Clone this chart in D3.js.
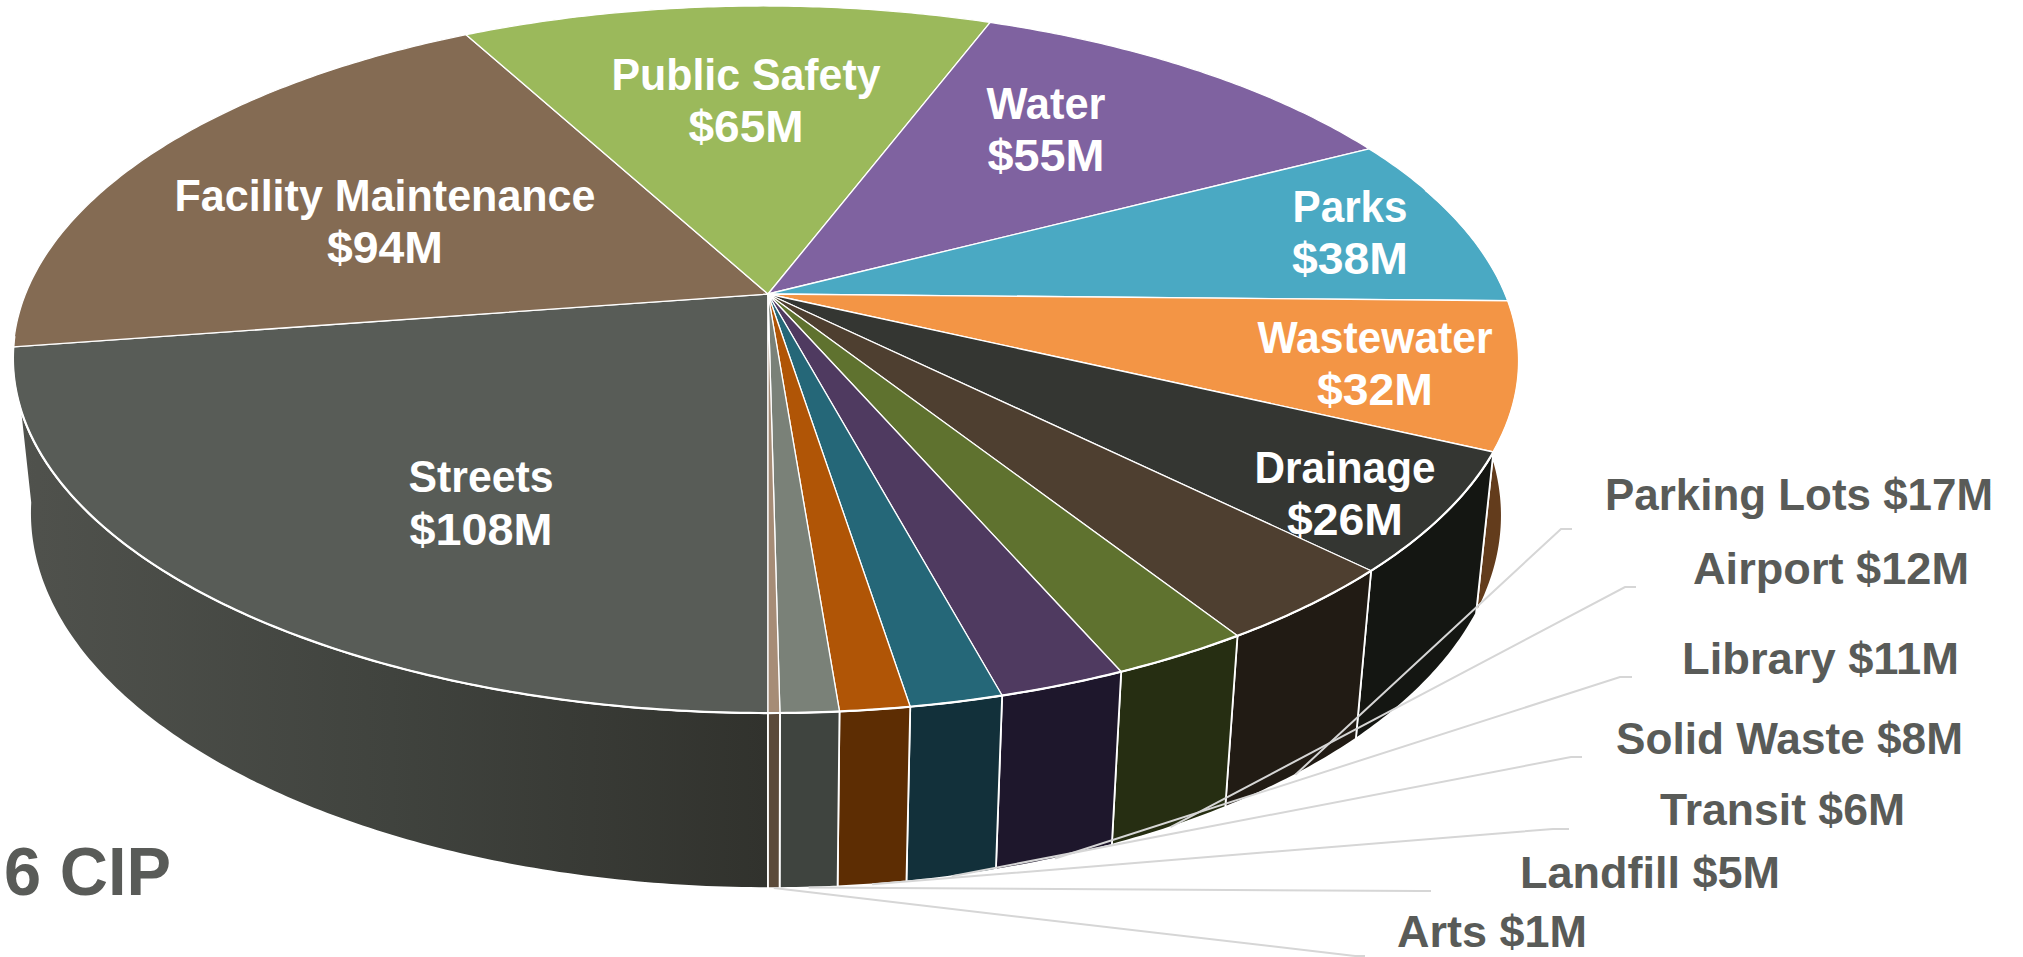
<!DOCTYPE html>
<html><head><meta charset="utf-8">
<script src="https://cdn.jsdelivr.net/npm/d3@7"></script>
<style>html,body{margin:0;padding:0;background:#fff;overflow:hidden}svg{display:block}
text{font-family:"Liberation Sans Narrow","Liberation Sans",sans-serif;font-weight:700}</style>
</head><body><svg id="c" width="2023" height="957"></svg>
<script>
const categories=["Streets","Facility Maintenance","Public Safety","Water","Parks","Wastewater","Drainage","Parking Lots","Airport","Library","Solid Waste","Transit","Landfill","Arts"];
const values=[108,94,65,55,38,32,26,17,12,11,8,6,5,1];
const topColors=["#585c57","#846b53","#9bb95b","#7f62a0","#4aa9c3","#f39545","#343632","#4e3f30","#5f722f","#4f3a60","#256778","#b05506","#7a8178","#a68c76"];
const wallColors=["url(#streetsWall)","#3f3226","#4d5c2d","#3f3150","#25545f","#633c1c","#141612","#211b14","#262e12","#1e172c","#12303a","#5d2d03","#3f443f","#5b4a3a"];
// label layout: [centre x, baseline of first line, width of line one, baseline of line two, width of line two]
const insideLayout=[[481,492,145,545,143],[385,211,421,263,116],[746,90,269,142,115],[1046,119,119,171,117],[1350,222,115,274,116],[1375,353,235,405,116],[1345,483,181,535,116]];
// outside labels: [left x, baseline, width, elbow x, stub end x, stub y]
const outsideLayout=[null,null,null,null,null,null,null,
 [1605,510,388,1561,1572,529],[1693,584,276,1625,1636,587],[1682,674,277,1620,1632,677],[1616,754,347,1571,1582,757],[1660,825,245,1553,1569,829],[1520,888,260,1420,1431,891],[1397,947,190,1355,1365,956]];

const cx=768,cy=294,a=740,b=341.4,k=0.1853,q=0.0225,Vq=156,lean=5;
const svg=d3.select("#c");
const defs=svg.append("defs");
const g=defs.append("linearGradient").attr("id","streetsWall").attr("gradientUnits","userSpaceOnUse").attr("x1",14).attr("x2",768).attr("y1",0).attr("y2",0);
[[0,"#50524d"],[0.5,"#40433e"],[1,"#31322d"]].forEach(s=>g.append("stop").attr("offset",s[0]).attr("stop-color",s[1]));

const project=(t,depth)=>{const X=-Math.sin(t),Y=Math.cos(t),w=1-k*Y+(depth?q:0);
 return [cx+a*X/w-lean*(1-Y)/2, cy+(b*Y+(depth?Vq:0))/w];};
const arcs=d3.pie().sort(null).startAngle(0).endAngle(2*Math.PI)(values);
const samples=(s,e)=>{const n=Math.max(2,Math.ceil((e-s)/0.01));return d3.range(n+1).map(i=>s+(e-s)*i/n);};
const line=d3.line();
const wallOrder=d3.range(arcs.length).sort((i,j)=>Math.cos((arcs[i].startAngle+arcs[i].endAngle)/2)-Math.cos((arcs[j].startAngle+arcs[j].endAngle)/2));

svg.append("g").selectAll("path").data(wallOrder).join("path")
 .attr("d",i=>{const t=samples(arcs[i].startAngle,arcs[i].endAngle);
   return line([...t.map(v=>project(v,false)),...t.slice().reverse().map(v=>project(v,true))])+"Z";})
 .attr("fill",i=>wallColors[i]).attr("stroke","#fff").attr("stroke-width",1.8).attr("stroke-linejoin","round");

svg.append("g").selectAll("path").data(arcs).join("path")
 .attr("d",d=>line([[cx,cy],...samples(d.startAngle,d.endAngle).map(v=>project(v,false))])+"Z")
 .attr("fill",(d,i)=>topColors[i]).attr("stroke","#fff").attr("stroke-width",1.3).attr("stroke-linejoin","round");

// heavier front rim of the top face
svg.append("path").attr("d",line(samples(-1.9,1.45).map(v=>project(v,false))))
 .attr("fill","none").attr("stroke","#fff").attr("stroke-width",2.2);

// leader lines
svg.append("g").selectAll("path").data(arcs.map((d,i)=>({d,l:outsideLayout[i]})).filter(o=>o.l)).join("path")
 .attr("d",o=>line([project((o.d.startAngle+o.d.endAngle)/2,true),[o.l[3],o.l[5]],[o.l[4],o.l[5]]]))
 .attr("fill","none").attr("stroke","#d6d6d6").attr("stroke-width",2);

const money=i=>"$"+values[i]+"M";
const labels=svg.append("g");
insideLayout.forEach((l,i)=>{
 labels.append("text").attr("x",l[0]).attr("y",l[1]).attr("text-anchor","middle").attr("font-size",45).attr("fill","#fff")
  .attr("textLength",l[2]).attr("lengthAdjust","spacingAndGlyphs").text(categories[i]);
 labels.append("text").attr("x",l[0]).attr("y",l[3]).attr("text-anchor","middle").attr("font-size",45).attr("fill","#fff")
  .attr("textLength",l[4]).attr("lengthAdjust","spacingAndGlyphs").text(money(i));
});
outsideLayout.forEach((l,i)=>{ if(!l) return;
 labels.append("text").attr("x",l[0]).attr("y",l[1]).attr("font-size",45).attr("fill","#595b58")
  .attr("textLength",l[2]).attr("lengthAdjust","spacingAndGlyphs").text(categories[i]+" "+money(i));
});
labels.append("text").attr("x",4).attr("y",895).attr("font-size",68).attr("fill","#595b58")
 .attr("textLength",167).attr("lengthAdjust","spacingAndGlyphs").text("6 CIP");
</script></body></html>
